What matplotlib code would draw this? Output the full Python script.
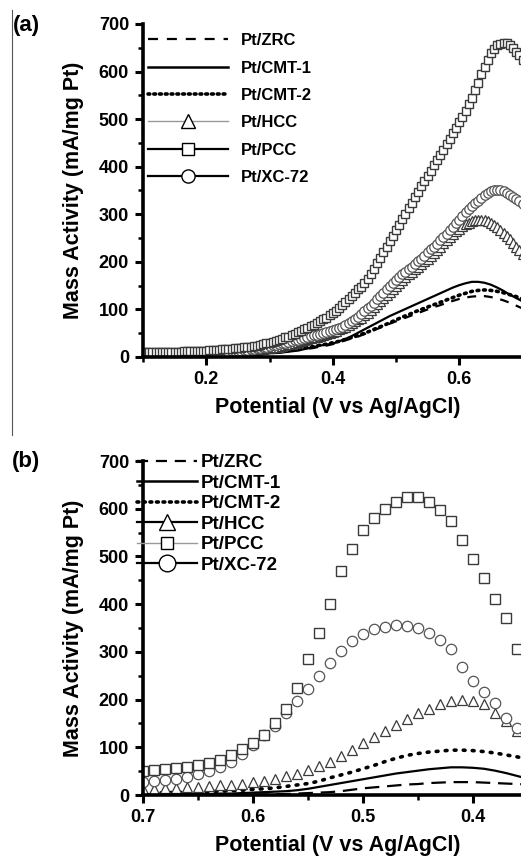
import numpy as np
import matplotlib
matplotlib.use("Agg")
import matplotlib.pyplot as plt
from matplotlib.lines import Line2D
from matplotlib.ticker import MultipleLocator

plt.rcParams['font.family'] = ['Liberation Sans', 'DejaVu Sans']
plt.rcParams['font.weight'] = 'bold'

labels = ['Pt/ZRC', 'Pt/CMT-1', 'Pt/CMT-2', 'Pt/HCC', 'Pt/PCC', 'Pt/XC-72']

# panel (a), lines: potential 0.10 ... 0.70 V, step 0.01
pot_a = np.round(np.arange(10, 71) / 100, 2)
zrc_a = [1, 1, 1, 1, 1, 2, 2, 2, 2, 2, 2, 3, 3, 3, 4, 4, 4, 5, 6, 6,
         7, 8, 10, 11, 13, 15, 17, 19, 22, 24, 27, 31, 35, 39, 43, 48, 53, 59, 64, 70,
         75, 80, 85, 90, 95, 100, 105, 109, 114, 118, 122, 125, 127, 128, 128, 126, 123, 119, 114, 108,
         102]
cmt1_a = [2, 2, 2, 2, 2, 2, 3, 3, 3, 3, 3, 3, 4, 4, 4, 5, 5, 6, 6, 7,
          8, 9, 10, 11, 13, 15, 18, 21, 24, 26, 28, 33, 38, 44, 51, 58, 65, 72, 79, 86,
          92, 98, 104, 110, 116, 122, 128, 134, 140, 146, 151, 155, 158, 158, 156, 152, 146, 139, 131, 124,
          117]
cmt2_a = [1, 1, 1, 2, 2, 2, 2, 2, 3, 3, 3, 3, 4, 4, 5, 5, 6, 6, 7, 8,
          9, 10, 12, 14, 16, 18, 20, 22, 25, 27, 30, 33, 37, 41, 45, 50, 55, 61, 66, 72,
          78, 84, 89, 95, 100, 105, 110, 115, 120, 125, 130, 134, 138, 140, 141, 140, 138, 135, 131, 127,
          122]

# panel (a), symbols: potential 0.100 ... 0.700 V, step 0.005
pot_a_sym = np.round(np.arange(100, 701, 5) / 1000, 3)
hcc_a = [5, 5, 5, 5, 5, 5, 5, 5, 6, 6,
         6, 6, 6, 6, 6, 6, 7, 7, 7, 7,
         7, 7, 8, 8, 8, 8, 9, 9, 10, 10,
         11, 11, 12, 12, 13, 14, 15, 16, 17, 18,
         19, 20, 21, 22, 24, 25, 27, 28, 30, 31,
         33, 35, 37, 39, 41, 43, 45, 47, 49, 51,
         53, 55, 58, 61, 64, 67, 71, 75, 79, 83,
         88, 93, 99, 105, 111, 117, 124, 130, 137, 143,
         150, 156, 162, 168, 174, 179, 185, 190, 196, 201,
         207, 213, 219, 225, 232, 239, 246, 252, 259, 265,
         270, 275, 279, 282, 285, 287, 288, 288, 287, 285,
         282, 278, 273, 267, 261, 254, 247, 240, 232, 225,
         217]
pcc_a = [10, 10, 10, 10, 10, 10, 10, 10, 11, 11,
         11, 11, 11, 12, 12, 12, 12, 13, 13, 13,
         13, 14, 14, 15, 15, 16, 16, 17, 17, 18,
         18, 19, 20, 21, 22, 23, 24, 26, 27, 29,
         30, 32, 34, 36, 38, 41, 43, 46, 49, 52,
         55, 58, 61, 65, 68, 72, 75, 79, 83, 88,
         92, 97, 103, 109, 115, 122, 128, 135, 142, 148,
         155, 165, 175, 186, 197, 208, 220, 231, 243, 255,
         267, 278, 290, 301, 313, 324, 336, 347, 359, 370,
         381, 392, 403, 414, 425, 436, 447, 458, 470, 481,
         493, 505, 517, 531, 545, 561, 577, 594, 610, 625,
         638, 648, 655, 659, 661, 660, 656, 650, 642, 634,
         625]
xc72_a = [6, 6, 6, 6, 6, 6, 6, 6, 7, 7,
          7, 7, 7, 7, 8, 8, 8, 8, 8, 8,
          9, 9, 9, 9, 10, 10, 11, 11, 12, 12,
          13, 13, 14, 15, 16, 17, 18, 19, 21, 22,
          24, 25, 26, 27, 29, 30, 32, 33, 35, 36,
          38, 40, 42, 44, 46, 47, 49, 50, 52, 54,
          56, 58, 61, 64, 68, 72, 76, 80, 85, 90,
          96, 102, 108, 114, 121, 128, 135, 142, 149, 155,
          162, 168, 174, 179, 185, 190, 196, 201, 206, 213,
          220, 226, 232, 238, 245, 252, 259, 266, 274, 281,
          289, 297, 305, 311, 318, 323, 328, 335, 341, 345,
          349, 351, 352, 350, 348, 345, 341, 337, 332, 327,
          322]

# panel (b): potential 0.70 ... 0.35 V, step 0.01
pot_b = np.round(np.arange(70, 34, -1) / 100, 2)
zrc_b = [0, 0, 0, 0, 0, 0, 0, 0, 1, 1, 1, 1, 2, 2, 3, 4, 5, 6, 8, 11,
         14, 16, 18, 20, 22, 23, 25, 26, 27, 27, 27, 26, 25, 24, 23, 22]
cmt1_b = [1, 1, 1, 1, 2, 2, 2, 3, 3, 4, 5, 6, 7, 8, 10, 13, 17, 21, 25, 29,
          33, 37, 41, 45, 48, 51, 54, 56, 58, 58, 57, 55, 51, 46, 40, 34]
cmt2_b = [4, 4, 5, 5, 6, 6, 7, 8, 9, 10, 12, 13, 15, 18, 21, 24, 29, 36, 42, 48,
          55, 62, 70, 77, 83, 87, 90, 92, 94, 94, 93, 91, 88, 84, 80, 75]
hcc_b = [13, 13, 14, 15, 16, 17, 18, 20, 22, 24, 27, 30, 34, 39, 45, 52, 60, 70, 82, 95,
         108, 121, 134, 147, 160, 171, 181, 190, 196, 199, 197, 190, 172, 155, 135, 115]
pcc_b = [51, 52, 54, 56, 59, 63, 68, 74, 83, 96, 110, 125, 150, 180, 225, 285, 340, 400, 470, 515,
         555, 580, 600, 615, 625, 625, 615, 598, 575, 535, 495, 455, 410, 372, 305, 260]
xc72_b = [28, 29, 31, 34, 38, 43, 50, 58, 70, 85, 105, 125, 145, 172, 197, 222, 250, 277, 302, 322,
          337, 347, 353, 356, 355, 350, 340, 325, 305, 268, 238, 215, 192, 162, 140, 118]

W, H = 521, 858
fig = plt.figure(figsize=(W / 100, H / 100), dpi=100)

edge = '#3a3a3a'


def style_axes(ax, xmajor, xminor):
    for s in ['top', 'right']:
        ax.spines[s].set_visible(False)
    for s in ['left', 'bottom']:
        ax.spines[s].set_linewidth(2.6)
    ax.set_ylim(0, 700)
    ax.yaxis.set_major_locator(MultipleLocator(100))
    ax.yaxis.set_minor_locator(MultipleLocator(50))
    ax.xaxis.set_major_locator(MultipleLocator(xmajor))
    ax.xaxis.set_minor_locator(MultipleLocator(xminor))
    ax.tick_params(which='major', direction='out', length=6, width=2.2,
                   labelsize=13, pad=4)
    ax.tick_params(which='minor', direction='out', length=3.5, width=1.8)
    for t in ax.get_xticklabels() + ax.get_yticklabels():
        t.set_fontweight('bold')
    ax.set_ylabel('Mass Activity (mA/mg Pt)', fontsize=15.5, fontweight='bold')
    ax.set_xlabel('Potential (V vs Ag/AgCl)', fontsize=15.5, fontweight='bold')
    ax.yaxis.set_label_coords(-0.155, 0.5)
    ax.xaxis.set_label_coords(0.516, -0.12)


def draw(ax, x, zrc, cmt1, cmt2, xs, hcc, pcc, xc72, dash, dots, ms):
    ax.plot(x, zrc, color='black', lw=1.6, linestyle=(0, dash))
    ax.plot(x, cmt1, color='black', lw=1.6)
    ax.plot(x, cmt2, color='black', lw=2.6, linestyle=(0, dots), dash_capstyle='round')
    ax.plot(xs, hcc, linestyle='none', marker='^', ms=ms + 0.5, mfc='white', mec=edge, mew=0.9)
    ax.plot(xs, xc72, linestyle='none', marker='o', ms=ms + 0.5, mfc='white', mec='#555555', mew=0.9)
    ax.plot(xs, pcc, linestyle='none', marker='s', ms=ms, mfc='white', mec=edge, mew=1.0)


# ---- panel (a)
axa = fig.add_axes([143 / W, 1 - 357 / H, 378 / W, 333 / H])
draw(axa, pot_a, zrc_a, cmt1_a, cmt2_a, pot_a_sym, hcc_a, pcc_a, xc72_a, (4, 3.5), (0.5, 1.3), 6.3)
axa.set_xlim(0.1, 0.1 + 378 / 632.5)
style_axes(axa, 0.2, 0.1)

hand_a = [
    Line2D([], [], color='black', lw=1.6, linestyle=(0, (4.5, 4))),
    Line2D([], [], color='black', lw=1.8),
    Line2D([], [], color='black', lw=2.6, linestyle=(0, (0.5, 1.1)), dash_capstyle='round'),
    Line2D([], [], color='#999999', lw=1.0, marker='^', ms=10, mfc='white', mec='black', mew=1.0),
    Line2D([], [], color='black', lw=1.6, marker='s', ms=8, mfc='white', mec='black', mew=1.0),
    Line2D([], [], color='black', lw=1.6, marker='o', ms=9.5, mfc='white', mec='black', mew=1.0),
]
axa.legend(hand_a, labels, loc='upper left', bbox_to_anchor=(0.013, 0.972), frameon=False,
           borderaxespad=0, borderpad=0, handlelength=4.8, handletextpad=0.75,
           labelspacing=0.74, prop={'size': 12, 'weight': 'bold'})

# ---- panel (b)
axb = fig.add_axes([143 / W, 1 - 795 / H, 378 / W, 334 / H])
draw(axb, pot_b, zrc_b, cmt1_b, cmt2_b, pot_b, hcc_b, pcc_b, xc72_b, (6.5, 3.5), (0.5, 2.0), 7.0)
axb.set_xlim(0.7, 0.7 - 378 / 1100)
style_axes(axb, 0.1, 0.05)

hand_b = [
    Line2D([], [], color='black', lw=1.6, linestyle=(0, (5, 3.5))),
    Line2D([], [], color='black', lw=1.8),
    Line2D([], [], color='black', lw=2.6, linestyle=(0, (0.5, 1.3)), dash_capstyle='round'),
    Line2D([], [], color='black', lw=1.6, marker='^', ms=12, mfc='white', mec='black', mew=1.0),
    Line2D([], [], color='#999999', lw=1.0, marker='s', ms=9, mfc='white', mec='black', mew=1.0),
    Line2D([], [], color='black', lw=1.6, marker='o', ms=12, mfc='white', mec='black', mew=1.0),
]
axb.legend(hand_b, labels, loc='upper left', bbox_to_anchor=(-0.016, 1.02), frameon=False,
           borderaxespad=0, borderpad=0, handlelength=3.2, handletextpad=0.2,
           labelspacing=0.18, prop={'size': 13.5, 'weight': 'bold'})

fig.text(13 / W, 1 - 26 / H, '(a)', fontsize=16, fontweight='bold', ha='left', va='center')
fig.text(12 / W, 1 - 462 / H, '(b)', fontsize=16, fontweight='bold', ha='left', va='center')

# thin border line left over from the original page crop
fig.add_artist(Line2D([12 / W, 12 / W], [1 - 10 / H, 1 - 435 / H], transform=fig.transFigure,
                      color='#555555', lw=0.8))

fig.savefig('out.png', dpi=100)
